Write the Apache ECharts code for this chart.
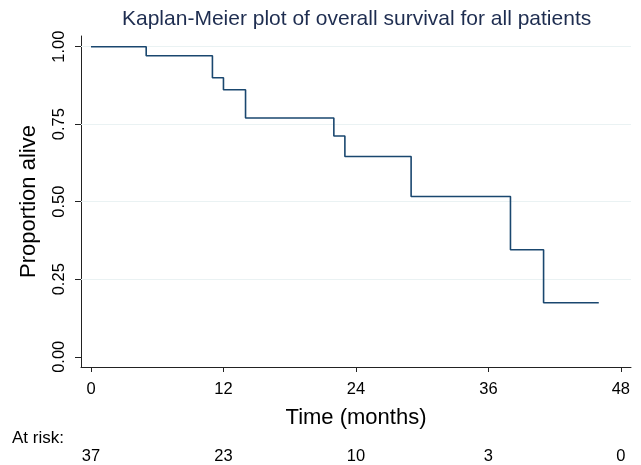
<!DOCTYPE html>
<html>
<head>
<meta charset="utf-8">
<script src="https://cdn.jsdelivr.net/npm/echarts@6/dist/echarts.min.js"></script>
<style>
  html, body { margin: 0; padding: 0; background: #fff; }
  #chart { width: 641px; height: 465px; }
</style>
</head>
<body>
<div id="chart"></div>
<script>
// Kaplan-Meier estimate
var times = [0, 5, 11, 12, 14, 22, 23, 29, 38, 41, 46];
var survival = [1.0, 0.971, 0.9, 0.861, 0.77, 0.712, 0.646, 0.517, 0.345, 0.174, 0.174];

var xTicks = [0, 12, 24, 36, 48];
var yTicks = [0, 0.25, 0.5, 0.75, 1.0];
var gridValues = [0.25, 0.5, 0.75, 1.0];
var atRisk = [37, 23, 10, 3, 0];

var lineColor = '#1a476f';
var textColor = '#000';
var fontName = 'Liberation Sans, Arial, sans-serif';

var myChart = echarts.init(document.getElementById('chart'), null, { renderer: 'canvas' });

var option = {
    backgroundColor: '#fff',
    animation: false,
    textStyle: { fontFamily: fontName },
    title: {
        text: 'Kaplan-Meier plot of overall survival for all patients',
        left: 117,
        top: 4,
        textStyle: { fontFamily: fontName, fontWeight: 'normal', fontSize: 21, color: '#1e2d50' }
    },
    grid: { left: 81, right: 10, top: 36, bottom: 98 },
    graphic: [
        {
            type: 'text',
            left: 12,
            top: 430,
            style: { text: 'At risk:', font: '17px ' + fontName, fill: textColor }
        }
    ],
    xAxis: [
        {
            type: 'value',
            min: -0.906,
            max: 48.92,
            name: 'Time (months)',
            nameLocation: 'middle',
            nameGap: 40,
            nameTextStyle: { fontSize: 22, color: textColor, fontFamily: fontName },
            axisLine: { show: true, onZero: false, lineStyle: { color: '#222', width: 1 } },
            axisTick: { show: true, length: 5, customValues: xTicks, lineStyle: { color: '#222' } },
            axisLabel: { customValues: xTicks, fontSize: 16.5, color: textColor, margin: 14 },
            splitLine: { show: false }
        },
        {
            type: 'value',
            min: -0.906,
            max: 48.92,
            position: 'bottom',
            offset: 73,
            axisLine: { show: false },
            axisTick: { show: false },
            axisLabel: {
                customValues: xTicks,
                fontSize: 16.5,
                color: textColor,
                margin: 8,
                formatter: function (value) {
                    var i = xTicks.indexOf(value);
                    return i < 0 ? '' : String(atRisk[i]);
                }
            },
            splitLine: { show: false }
        }
    ],
    yAxis: {
        type: 'value',
        min: -0.033,
        max: 1.0345,
        name: 'Proportion alive',
        nameLocation: 'middle',
        nameGap: 41,
        nameTextStyle: { fontSize: 22, color: textColor, fontFamily: fontName },
        axisLine: { show: true, onZero: false, lineStyle: { color: '#222', width: 1 } },
        axisTick: { show: true, length: 6, customValues: yTicks, lineStyle: { color: '#222' } },
        axisLabel: {
            customValues: yTicks,
            rotate: 90,
            fontSize: 16.5,
            color: textColor,
            margin: 13,
            formatter: function (value) { return value.toFixed(2); }
        },
        splitLine: { show: false }
    },
    series: [
        {
            // grid lines
            type: 'line',
            data: [],
            z: 1,
            silent: true,
            markLine: {
                silent: true,
                symbol: 'none',
                label: { show: false },
                lineStyle: { color: '#eaf2f3', width: 1.2, type: 'solid' },
                data: gridValues.map(function (v) { return { yAxis: v }; })
            }
        },
        {
            name: 'KM',
            type: 'line',
            step: 'end',
            zlevel: 1,
            z: 3,
            symbol: 'none',
            lineStyle: { color: lineColor, width: 1.6 },
            data: times.map(function (t, i) { return [t, survival[i]]; })
        }
    ]
};

myChart.setOption(option);
</script>
</body>
</html>
